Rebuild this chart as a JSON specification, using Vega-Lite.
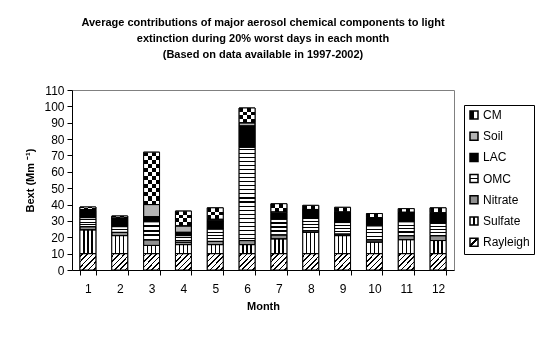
{
  "$schema": "https://vega.github.io/schema/vega-lite/v6.json",
  "width": 382,
  "height": 180,
  "autosize": "none",
  "padding": {"left": 72, "top": 90, "right": 91, "bottom": 68},
  "background": "white",
  "title": {
    "text": ["Average contributions of major aerosol chemical components to light", "extinction during 20% worst days in each month", "(Based on data available in 1997-2002)"],
    "font": "Liberation Sans", "fontSize": 11, "fontWeight": "bold", "color": "black",
    "lineHeight": 16, "anchor": "middle", "offset": 24
  },
  "data": {"values": [
    {"month":1,"c":"Rayleigh","v":10},{"month":1,"c":"Sulfate","v":14.5},{"month":1,"c":"Nitrate","v":2},{"month":1,"c":"OMC","v":5.5},{"month":1,"c":"LAC","v":4.5},{"month":1,"c":"Soil","v":0.5},{"month":1,"c":"CM","v":1.5},
    {"month":2,"c":"Rayleigh","v":10},{"month":2,"c":"Sulfate","v":11},{"month":2,"c":"Nitrate","v":2},{"month":2,"c":"OMC","v":3.5},{"month":2,"c":"LAC","v":5},{"month":2,"c":"Soil","v":0.3},{"month":2,"c":"CM","v":1.2},
    {"month":3,"c":"Rayleigh","v":10},{"month":3,"c":"Sulfate","v":5},{"month":3,"c":"Nitrate","v":3.5},{"month":3,"c":"OMC","v":11},{"month":3,"c":"LAC","v":3},{"month":3,"c":"Soil","v":7.5},{"month":3,"c":"CM","v":32},
    {"month":4,"c":"Rayleigh","v":10},{"month":4,"c":"Sulfate","v":5.5},{"month":4,"c":"Nitrate","v":1.5},{"month":4,"c":"OMC","v":4},{"month":4,"c":"LAC","v":2},{"month":4,"c":"Soil","v":4},{"month":4,"c":"CM","v":9},
    {"month":5,"c":"Rayleigh","v":10},{"month":5,"c":"Sulfate","v":5.5},{"month":5,"c":"Nitrate","v":2},{"month":5,"c":"OMC","v":7.5},{"month":5,"c":"LAC","v":5},{"month":5,"c":"Soil","v":1},{"month":5,"c":"CM","v":7},
    {"month":6,"c":"Rayleigh","v":10},{"month":6,"c":"Sulfate","v":5.5},{"month":6,"c":"Nitrate","v":2.5},{"month":6,"c":"OMC","v":57},{"month":6,"c":"LAC","v":13},{"month":6,"c":"Soil","v":2},{"month":6,"c":"CM","v":9},
    {"month":7,"c":"Rayleigh","v":10},{"month":7,"c":"Sulfate","v":9},{"month":7,"c":"Nitrate","v":2.5},{"month":7,"c":"OMC","v":9.5},{"month":7,"c":"LAC","v":3.5},{"month":7,"c":"Soil","v":1},{"month":7,"c":"CM","v":5},
    {"month":8,"c":"Rayleigh","v":10},{"month":8,"c":"Sulfate","v":13},{"month":8,"c":"Nitrate","v":1},{"month":8,"c":"OMC","v":7.5},{"month":8,"c":"LAC","v":5},{"month":8,"c":"Soil","v":0.5},{"month":8,"c":"CM","v":2.5},
    {"month":9,"c":"Rayleigh","v":10},{"month":9,"c":"Sulfate","v":11},{"month":9,"c":"Nitrate","v":1},{"month":9,"c":"OMC","v":7},{"month":9,"c":"LAC","v":6},{"month":9,"c":"Soil","v":0.5},{"month":9,"c":"CM","v":2.8},
    {"month":10,"c":"Rayleigh","v":10},{"month":10,"c":"Sulfate","v":7},{"month":10,"c":"Nitrate","v":1.5},{"month":10,"c":"OMC","v":8.5},{"month":10,"c":"LAC","v":4.5},{"month":10,"c":"Soil","v":0.5},{"month":10,"c":"CM","v":2.5},
    {"month":11,"c":"Rayleigh","v":10},{"month":11,"c":"Sulfate","v":8.5},{"month":11,"c":"Nitrate","v":2.5},{"month":11,"c":"OMC","v":8.5},{"month":11,"c":"LAC","v":5.5},{"month":11,"c":"Soil","v":0.3},{"month":11,"c":"CM","v":2.2},
    {"month":12,"c":"Rayleigh","v":10},{"month":12,"c":"Sulfate","v":8},{"month":12,"c":"Nitrate","v":3},{"month":12,"c":"OMC","v":7.5},{"month":12,"c":"LAC","v":6},{"month":12,"c":"Soil","v":0.5},{"month":12,"c":"CM","v":3}
  ]},
  "transform": [
    {"calculate": "indexof(['Rayleigh','Sulfate','Nitrate','OMC','LAC','Soil','CM'], datum.c)", "as": "ord"},
    {"stack": "v", "groupby": ["month"], "sort": [{"field": "ord", "order": "ascending"}], "as": ["y0", "y1"]}
  ],
  "encoding": {
    "x": {"field": "month", "type": "ordinal", "title": "Month",
      "scale": {"paddingInner": 0.5, "paddingOuter": 0.25},
      "axis": {"labelAngle": 0, "tickBand": "extent", "tickSize": 5, "labelPadding": 8, "titlePadding": 6}},
    "y": {"field": "y0", "type": "quantitative", "title": "Bext (Mm ⁻¹)",
      "scale": {"domain": [0, 110], "nice": false},
      "axis": {"values": [0,10,20,30,40,50,60,70,80,90,100,110], "tickSize": 5, "labelPadding": 3, "titlePadding": 8}},
    "y2": {"field": "y1"}
  },
  "layer": [
    {
      "mark": {"type": "bar", "stroke": "black", "strokeWidth": 1},
      "encoding": {
        "fill": {"field": "c", "type": "nominal",
          "scale": {"domain": ["CM","Soil","LAC","OMC","Nitrate","Sulfate","Rayleigh"],
            "range": [
              {"expr": "{gradient:'linear',x1:0,y1:0,x2:1,y2:0,stops:[{offset:0,color:'black'},{offset:0.5,color:'black'},{offset:0.5,color:'white'},{offset:1,color:'white'}]}"},
              "#b4b4b4",
              "black",
              {"expr": "{gradient:'linear',x1:0,y1:0,x2:0,y2:1,stops:[{offset:0,color:'white'},{offset:0.43,color:'white'},{offset:0.43,color:'black'},{offset:0.57,color:'black'},{offset:0.57,color:'white'},{offset:1,color:'white'}]}"},
              "#909090",
              {"expr": "{gradient:'linear',x1:0,y1:0,x2:1,y2:0,stops:[{offset:0,color:'white'},{offset:0.43,color:'white'},{offset:0.43,color:'black'},{offset:0.57,color:'black'},{offset:0.57,color:'white'},{offset:1,color:'white'}]}"},
              {"expr": "{gradient:'linear',x1:0,y1:0,x2:1,y2:1,stops:[{offset:0,color:'white'},{offset:0.42,color:'white'},{offset:0.42,color:'black'},{offset:0.58,color:'black'},{offset:0.58,color:'white'},{offset:1,color:'white'}]}"}
            ]},
          "legend": {"title": null, "orient": "none", "legendX": 392, "legendY": 15}}
      }
    },
    {
      "transform": [{"filter": "datum.c == 'Rayleigh'"}],
      "mark": {"type": "bar",
        "fill": {"gradient":"linear","x1":0,"y1":0,"x2":1,"y2":1,"stops":[{"offset":0,"color":"white"},{"offset":0.06,"color":"white"},{"offset":0.06,"color":"black"},{"offset":0.11,"color":"black"},{"offset":0.11,"color":"white"},{"offset":0.227,"color":"white"},{"offset":0.227,"color":"black"},{"offset":0.277,"color":"black"},{"offset":0.277,"color":"white"},{"offset":0.393,"color":"white"},{"offset":0.393,"color":"black"},{"offset":0.443,"color":"black"},{"offset":0.443,"color":"white"},{"offset":0.56,"color":"white"},{"offset":0.56,"color":"black"},{"offset":0.61,"color":"black"},{"offset":0.61,"color":"white"},{"offset":0.727,"color":"white"},{"offset":0.727,"color":"black"},{"offset":0.777,"color":"black"},{"offset":0.777,"color":"white"},{"offset":0.893,"color":"white"},{"offset":0.893,"color":"black"},{"offset":0.943,"color":"black"},{"offset":0.943,"color":"white"},{"offset":1,"color":"white"}]}}
    },
    {
      "transform": [{"filter": "datum.c == 'Sulfate'"}],
      "mark": {"type": "bar",
        "fill": {"gradient":"linear","x1":0,"y1":0,"x2":1,"y2":0,"stops":[{"offset":0,"color":"white"},{"offset":0.21,"color":"white"},{"offset":0.21,"color":"black"},{"offset":0.29,"color":"black"},{"offset":0.29,"color":"white"},{"offset":0.46,"color":"white"},{"offset":0.46,"color":"black"},{"offset":0.54,"color":"black"},{"offset":0.54,"color":"white"},{"offset":0.71,"color":"white"},{"offset":0.71,"color":"black"},{"offset":0.79,"color":"black"},{"offset":0.79,"color":"white"},{"offset":1,"color":"white"}]}}
    },
    {
      "transform": [{"filter": "datum.c == 'OMC' && datum.month != 6"}],
      "mark": {"type": "bar",
        "fill": {"gradient":"linear","x1":0,"y1":0,"x2":0,"y2":1,"stops":[{"offset":0,"color":"white"},{"offset":0.2,"color":"white"},{"offset":0.2,"color":"black"},{"offset":0.3,"color":"black"},{"offset":0.3,"color":"white"},{"offset":0.45,"color":"white"},{"offset":0.45,"color":"black"},{"offset":0.55,"color":"black"},{"offset":0.55,"color":"white"},{"offset":0.7,"color":"white"},{"offset":0.7,"color":"black"},{"offset":0.8,"color":"black"},{"offset":0.8,"color":"white"},{"offset":1,"color":"white"}]}}
    },
    {
      "transform": [{"filter": "datum.c == 'OMC' && datum.month == 6"}],
      "mark": {"type": "bar",
        "fill": {"gradient":"linear","x1":0,"y1":0,"x2":0,"y2":1,"stops":[
          {"offset":0,"color":"white"},
          {"offset":0.0157,"color":"white"},{"offset":0.0157,"color":"black"},{"offset":0.0277,"color":"black"},{"offset":0.0277,"color":"white"},
          {"offset":0.0592,"color":"white"},{"offset":0.0592,"color":"black"},{"offset":0.0712,"color":"black"},{"offset":0.0712,"color":"white"},
          {"offset":0.1027,"color":"white"},{"offset":0.1027,"color":"black"},{"offset":0.1147,"color":"black"},{"offset":0.1147,"color":"white"},
          {"offset":0.1462,"color":"white"},{"offset":0.1462,"color":"black"},{"offset":0.1582,"color":"black"},{"offset":0.1582,"color":"white"},
          {"offset":0.1897,"color":"white"},{"offset":0.1897,"color":"black"},{"offset":0.2017,"color":"black"},{"offset":0.2017,"color":"white"},
          {"offset":0.2331,"color":"white"},{"offset":0.2331,"color":"black"},{"offset":0.2451,"color":"black"},{"offset":0.2451,"color":"white"},
          {"offset":0.2766,"color":"white"},{"offset":0.2766,"color":"black"},{"offset":0.2886,"color":"black"},{"offset":0.2886,"color":"white"},
          {"offset":0.3201,"color":"white"},{"offset":0.3201,"color":"black"},{"offset":0.3321,"color":"black"},{"offset":0.3321,"color":"white"},
          {"offset":0.3636,"color":"white"},{"offset":0.3636,"color":"black"},{"offset":0.3756,"color":"black"},{"offset":0.3756,"color":"white"},
          {"offset":0.4070,"color":"white"},{"offset":0.4070,"color":"black"},{"offset":0.4190,"color":"black"},{"offset":0.4190,"color":"white"},
          {"offset":0.4505,"color":"white"},{"offset":0.4505,"color":"black"},{"offset":0.4625,"color":"black"},{"offset":0.4625,"color":"white"},
          {"offset":0.4940,"color":"white"},{"offset":0.4940,"color":"black"},{"offset":0.5060,"color":"black"},{"offset":0.5060,"color":"white"},
          {"offset":0.5375,"color":"white"},{"offset":0.5375,"color":"black"},{"offset":0.5495,"color":"black"},{"offset":0.5495,"color":"white"},
          {"offset":0.5810,"color":"white"},{"offset":0.5810,"color":"black"},{"offset":0.5930,"color":"black"},{"offset":0.5930,"color":"white"},
          {"offset":0.6244,"color":"white"},{"offset":0.6244,"color":"black"},{"offset":0.6364,"color":"black"},{"offset":0.6364,"color":"white"},
          {"offset":0.6679,"color":"white"},{"offset":0.6679,"color":"black"},{"offset":0.6799,"color":"black"},{"offset":0.6799,"color":"white"},
          {"offset":0.7114,"color":"white"},{"offset":0.7114,"color":"black"},{"offset":0.7234,"color":"black"},{"offset":0.7234,"color":"white"},
          {"offset":0.7549,"color":"white"},{"offset":0.7549,"color":"black"},{"offset":0.7669,"color":"black"},{"offset":0.7669,"color":"white"},
          {"offset":0.7983,"color":"white"},{"offset":0.7983,"color":"black"},{"offset":0.8103,"color":"black"},{"offset":0.8103,"color":"white"},
          {"offset":0.8418,"color":"white"},{"offset":0.8418,"color":"black"},{"offset":0.8538,"color":"black"},{"offset":0.8538,"color":"white"},
          {"offset":0.8853,"color":"white"},{"offset":0.8853,"color":"black"},{"offset":0.8973,"color":"black"},{"offset":0.8973,"color":"white"},
          {"offset":0.9288,"color":"white"},{"offset":0.9288,"color":"black"},{"offset":0.9408,"color":"black"},{"offset":0.9408,"color":"white"},
          {"offset":0.9723,"color":"white"},{"offset":0.9723,"color":"black"},{"offset":0.9843,"color":"black"},{"offset":0.9843,"color":"white"},
          {"offset":1,"color":"white"}]}}
    },
    {
      "transform": [{"filter": "datum.c == 'CM' && datum.month == 3"}],
      "mark": {"type": "bar",
        "fill": {"gradient":"linear","x1":0,"y1":0,"x2":0,"y2":1,"stops":[{"offset":0,"color":"white"},{"offset":0.0769,"color":"white"},{"offset":0.0769,"color":"black"},{"offset":0.1538,"color":"black"},{"offset":0.1538,"color":"white"},{"offset":0.2308,"color":"white"},{"offset":0.2308,"color":"black"},{"offset":0.3077,"color":"black"},{"offset":0.3077,"color":"white"},{"offset":0.3846,"color":"white"},{"offset":0.3846,"color":"black"},{"offset":0.4615,"color":"black"},{"offset":0.4615,"color":"white"},{"offset":0.5385,"color":"white"},{"offset":0.5385,"color":"black"},{"offset":0.6154,"color":"black"},{"offset":0.6154,"color":"white"},{"offset":0.6923,"color":"white"},{"offset":0.6923,"color":"black"},{"offset":0.7692,"color":"black"},{"offset":0.7692,"color":"white"},{"offset":0.8462,"color":"white"},{"offset":0.8462,"color":"black"},{"offset":0.9231,"color":"black"},{"offset":0.9231,"color":"white"},{"offset":1,"color":"white"}]}}
    },
    {
      "transform": [{"filter": "datum.c == 'CM' && (datum.month == 4 || datum.month == 6)"}],
      "mark": {"type": "bar",
        "fill": {"gradient":"linear","x1":0,"y1":0,"x2":0,"y2":1,"stops":[{"offset":0,"color":"white"},{"offset":0.25,"color":"white"},{"offset":0.25,"color":"black"},{"offset":0.5,"color":"black"},{"offset":0.5,"color":"white"},{"offset":0.75,"color":"white"},{"offset":0.75,"color":"black"},{"offset":1,"color":"black"}]}}
    },
    {
      "transform": [{"filter": "datum.c == 'CM' && datum.month == 5"}],
      "mark": {"type": "bar",
        "fill": {"gradient":"linear","x1":0,"y1":0,"x2":0,"y2":1,"stops":[{"offset":0,"color":"white"},{"offset":0.333,"color":"white"},{"offset":0.333,"color":"black"},{"offset":0.667,"color":"black"},{"offset":0.667,"color":"white"},{"offset":1,"color":"white"}]}}
    },
    {
      "transform": [{"filter": "datum.c == 'CM' && (datum.month == 1 || datum.month == 2 || datum.month == 7)"}],
      "mark": {"type": "bar",
        "fill": {"gradient":"linear","x1":0,"y1":0,"x2":0,"y2":1,"stops":[{"offset":0,"color":"white"},{"offset":0.5,"color":"white"},{"offset":0.5,"color":"black"},{"offset":1,"color":"black"}]}}
    },
    {
      "transform": [{"filter": "datum.c == 'CM' && datum.month >= 8"}],
      "mark": {"type": "bar", "fill": "white"}
    },
    {
      "transform": [{"filter": "datum.c == 'CM'"}],
      "mark": {"type": "bar", "blend": "difference",
        "fill": {"gradient":"linear","x1":0,"y1":0,"x2":1,"y2":0,"stops":[{"offset":0,"color":"white"},{"offset":0.25,"color":"white"},{"offset":0.25,"color":"black"},{"offset":0.5,"color":"black"},{"offset":0.5,"color":"white"},{"offset":0.75,"color":"white"},{"offset":0.75,"color":"black"},{"offset":1,"color":"black"}]}}
    },
    {
      "mark": {"type": "bar", "fill": "white", "fillOpacity": 0, "stroke": "black", "strokeWidth": 1},
      "encoding": {}
    }
  ],
  "config": {
    "view": {"stroke": "#808080", "strokeWidth": 1},
    "axis": {
      "grid": false, "domainColor": "black", "tickColor": "black", "labelColor": "black", "titleColor": "black",
      "labelFont": "Liberation Sans", "labelFontSize": 12, "titleFont": "Liberation Sans", "titleFontSize": 11, "titleFontWeight": "bold"
    },
    "legend": {
      "symbolType": "square", "symbolSize": 64,
      "labelFont": "Liberation Sans", "labelFontSize": 12, "labelColor": "black", "labelOffset": 3,
      "rowPadding": 7.2, "padding": 4, "strokeColor": "black", "fillColor": "white", "cornerRadius": 0
    }
  }
}
